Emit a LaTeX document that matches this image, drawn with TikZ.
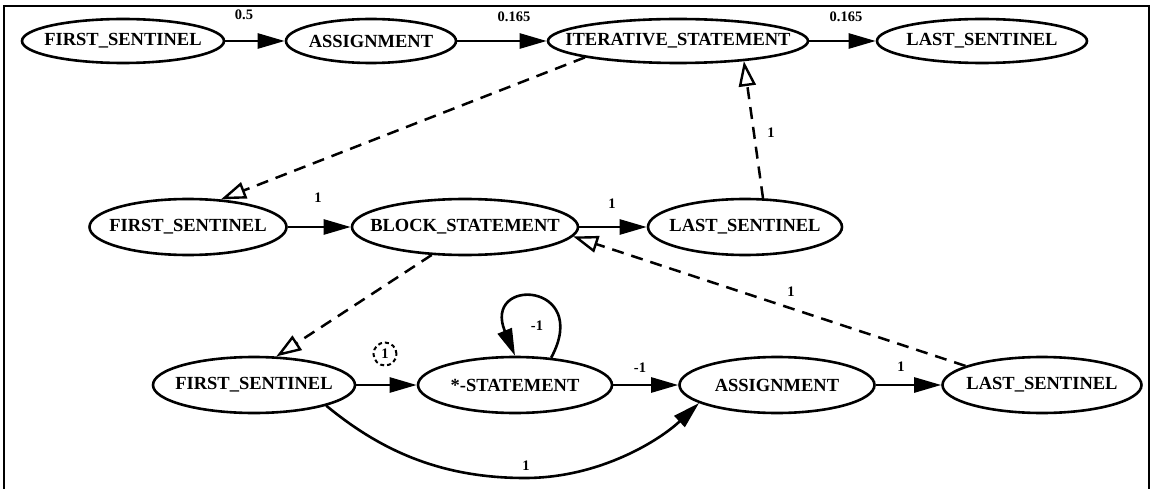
\documentclass[tikz,border=0pt]{standalone}
\usepackage{fontspec}
\setmainfont{Liberation Serif}
\usetikzlibrary{shapes.geometric,arrows.meta}
% node text is centred in a zero-width box so the ellipse keeps its set size
\newcommand\statetext[1]{\makebox[0pt]{#1}}
\begin{document}
\begin{tikzpicture}[x=1pt,y=-1pt,
  state/.style={draw, ellipse, line width=2.6pt, inner sep=0pt,
    font=\bfseries\fontsize{18.5}{18.5}\selectfont},
  toprow/.style={state, minimum height=44pt},
  lowrow/.style={state, minimum height=56pt},
  flow/.style={line width=2.6pt, -{Triangle[length=27pt,width=15pt]}},
  nest/.style={line width=2.5pt, dash pattern=on 12pt off 8pt,
    -{Triangle[open,length=25pt,width=17pt,line width=2.4pt]}},
  weight/.style={font=\bfseries\fontsize{14.5}{14.5}\selectfont, inner sep=1pt},
]
\useasboundingbox (0,0) rectangle (1153,489);
\draw[line width=2.4pt] (4,489) -- (4,6) -- (1149,6) -- (1149,489);

% outer sequence
\node[toprow, minimum width=202pt] (n1) at (123,41)  {\statetext{FIRST\_SENTINEL}};
\node[toprow, minimum width=170pt] (n2) at (371,41)  {\statetext{ASSIGNMENT}};
\node[toprow, minimum width=260pt] (n3) at (678,41)  {\statetext{ITERATIVE\_STATEMENT}};
\node[toprow, minimum width=210pt] (n4) at (982,41)  {\statetext{LAST\_SENTINEL}};

% loop body
\node[lowrow, minimum width=197pt] (n5) at (188,227) {\statetext{FIRST\_SENTINEL}};
\node[lowrow, minimum width=226pt] (n6) at (465,227) {\statetext{BLOCK\_STATEMENT}};
\node[lowrow, minimum width=194pt] (n7) at (745,227) {\statetext{LAST\_SENTINEL}};

% block contents
\node[lowrow, minimum width=202pt] (n8)  at (254,385)  {\statetext{FIRST\_SENTINEL}};
\node[lowrow, minimum width=194pt] (n9)  at (515,385)  {\statetext{*-STATEMENT}};
\node[lowrow, minimum width=195pt] (n10) at (777,385)  {\statetext{ASSIGNMENT}};
\node[lowrow, minimum width=199pt] (n11) at (1042,385) {\statetext{LAST\_SENTINEL}};

% weights
\node[weight] (w12) at (244,15) {0.5};
\node[weight] (w23) at (514,17) {0.165};
\node[weight] (w34) at (846,17) {0.165};
\node[weight] (w56) at (318,198) {1};
\node[weight] (w67) at (612,204) {1};
\node[weight] (w73) at (771,133) {1};
\node[weight] (w116) at (791,292) {1};
\node[weight, draw, circle, dash pattern=on 4pt off 3pt, line width=2pt,
      minimum size=23pt, inner sep=0pt] (w89) at (385,354) {1};
\node[weight] (w99) at (537,326) {-1};
\node[weight] (w910) at (640,368) {-1};
\node[weight] (w1011) at (901,367) {1};
\node[weight] (w810) at (526,466) {1};

% solid transitions
\draw[flow] (n1) -- (n2);
\draw[flow] (n2) -- (n3);
\draw[flow] (n3) -- (n4);
\draw[flow] (n5) -- (n6);
\draw[flow] (n6) -- (n7);
\draw[flow] (n8) -- (n9);
\draw[flow] (n9) -- (n10);
\draw[flow] (n10) -- (n11);
\draw[flow] (n9.37) .. controls (592,282) and (482,276) .. (n9.90);
\draw[flow] (n8.344) .. controls (380,450) and (440,478) .. (525,478)
            .. controls (600,478) and (660,440) .. (n10.193);

% nesting links
\draw[nest] (n3.190) -- (n5.40);
\draw[nest] (n7.58) -- (n3.343);
\draw[nest] (n6.220) -- (n8.52);
\draw[nest] (n11.166) -- (n6.355);
\end{tikzpicture}
\end{document}
